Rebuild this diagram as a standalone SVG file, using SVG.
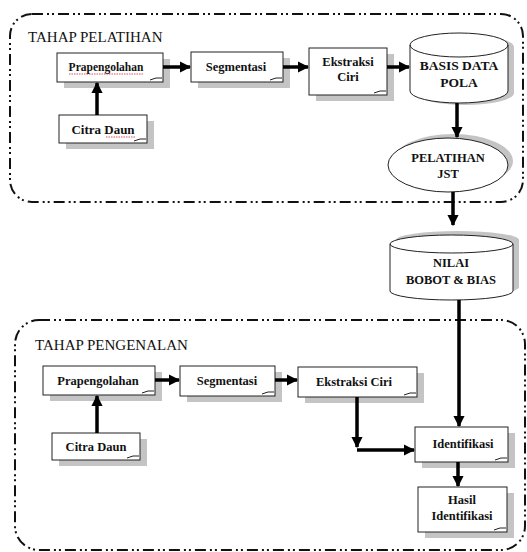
<svg xmlns="http://www.w3.org/2000/svg" width="527" height="552" viewBox="0 0 527 552">
<style>
.bnd{fill:none;stroke:#111;stroke-width:2;stroke-dasharray:11 4 2 3 2 4}
.box{fill:#fff;stroke:#222;stroke-width:1}
.sh{fill:#c4c4c4;stroke:none}
.fold{fill:none;stroke:#222;stroke-width:1}
.t{font-family:"Liberation Serif",serif;font-size:12.5px;font-weight:bold;fill:#111;text-anchor:middle}
.h{font-family:"Liberation Serif",serif;font-size:15px;fill:#111}
.c{stroke:#000;stroke-width:3.5;fill:none}
.wavy{fill:none;stroke:#d22;stroke-width:0.8;stroke-dasharray:1.5 1}
</style>
<defs>
<marker id="ah" viewBox="0 0 10 10" refX="9" refY="5" markerWidth="3.2" markerHeight="3.2" orient="auto" markerUnits="strokeWidth">
<path d="M0,0 L10,5 L0,10 z" fill="#000"/>
</marker>
</defs>

<!-- boundaries -->
<g id="tahap-pelatihan">
<rect class="bnd" x="10" y="14" width="513" height="188" rx="22" ry="22"/>
<text class="h" x="28" y="42">TAHAP PELATIHAN</text>
</g>
<g id="tahap-pengenalan">
<rect class="bnd" x="15" y="320" width="510" height="230" rx="24" ry="24"/>
<text class="h" x="35" y="350">TAHAP PENGENALAN</text>
</g>

<!-- top nodes -->
<g id="prapengolahan1">
<rect class="sh" x="64" y="59" width="106" height="29"/>
<rect class="box" x="57" y="53" width="106" height="29"/>
<path class="fold" d="M150,80 Q156,77 162,78"/>
<text class="t" x="106" y="71" style="font-size:11.5px">Prapengolahan</text>
<path class="wavy" d="M69,74 L144,74"/>
</g>
<g id="segmentasi1">
<rect class="sh" x="198" y="58" width="92" height="30"/>
<rect class="box" x="191" y="52" width="92" height="30"/>
<path class="fold" d="M270,80 Q276,77 282,78"/>
<text class="t" x="236" y="71">Segmentasi</text>
</g>
<g id="ekstraksi1">
<rect class="sh" x="316" y="54" width="78" height="47"/>
<rect class="box" x="309" y="48" width="78" height="47"/>
<path class="fold" d="M374,93 Q380,90 386,91"/>
<text class="t" x="348" y="66">Ekstraksi</text>
<text class="t" x="348" y="81">Ciri</text>
</g>
<g id="basis-data">
<path class="sh" d="M416,47 A49,12 0 0 1 514,47 L514,93 A49,12 0 0 1 416,93 z"/>
<path class="box" d="M410,45 A49,12 0 0 1 508,45 L508,91 A49,12 0 0 1 410,91 z"/>
<path class="fold" d="M410,45 A49,12 0 0 0 508,45"/>
<text class="t" x="459" y="70" style="font-size:13.5px">BASIS DATA</text>
<text class="t" x="459" y="87" style="font-size:13.5px">POLA</text>
</g>
<g id="pelatihan-jst">
<ellipse class="sh" cx="453" cy="161" rx="60" ry="27"/>
<ellipse class="box" cx="448" cy="165" rx="60" ry="27"/>
<text class="t" x="448" y="162">PELATIHAN</text>
<text class="t" x="448" y="178">JST</text>
</g>
<g id="citra-daun1">
<rect class="sh" x="66" y="121" width="88" height="28"/>
<rect class="box" x="59" y="115" width="88" height="28"/>
<path class="fold" d="M134,141 Q140,138 146,139"/>
<text class="t" x="103" y="134" style="font-size:13px">Citra Daun</text>
<path class="wavy" d="M106,137 L136,137"/>
</g>

<g id="nilai-bobot">
<path class="sh" d="M396,240 A61.5,9 0 0 1 519,240 L519,287 A61.5,9 0 0 1 396,287 z"/>
<path class="box" d="M390,244 A61.5,9 0 0 1 513,244 L513,291 A61.5,9 0 0 1 390,291 z"/>
<path class="fold" d="M390,244 A61.5,9 0 0 0 513,244"/>
<text class="t" x="451" y="267">NILAI</text>
<text class="t" x="451" y="284">BOBOT &amp; BIAS</text>
</g>

<!-- bottom nodes -->
<g id="prapengolahan2">
<rect class="sh" x="50" y="372" width="112" height="29"/>
<rect class="box" x="43" y="366" width="112" height="29"/>
<path class="fold" d="M142,393 Q148,390 154,391"/>
<text class="t" x="98" y="385">Prapengolahan</text>
</g>
<g id="segmentasi2">
<rect class="sh" x="187" y="372" width="95" height="30"/>
<rect class="box" x="180" y="366" width="95" height="30"/>
<path class="fold" d="M262,394 Q268,391 274,392"/>
<text class="t" x="227" y="385">Segmentasi</text>
</g>
<g id="ekstraksi2">
<rect class="sh" x="305" y="373" width="119" height="30"/>
<rect class="box" x="298" y="367" width="119" height="30"/>
<path class="fold" d="M404,395 Q410,392 416,393"/>
<text class="t" x="354" y="386">Ekstraksi Ciri</text>
</g>
<g id="citra-daun2">
<rect class="sh" x="59" y="439" width="88" height="27"/>
<rect class="box" x="52" y="433" width="88" height="27"/>
<path class="fold" d="M127,458 Q133,455 139,456"/>
<text class="t" x="96" y="451">Citra Daun</text>
</g>
<g id="identifikasi">
<rect class="sh" x="422" y="433" width="93" height="35"/>
<rect class="box" x="415" y="427" width="93" height="35"/>
<path class="fold" d="M495,460 Q501,457 507,458"/>
<text class="t" x="463" y="448">Identifikasi</text>
</g>
<g id="hasil-identifikasi">
<rect class="sh" x="425" y="493" width="89" height="45"/>
<rect class="box" x="418" y="487" width="89" height="45"/>
<path class="fold" d="M494,530 Q500,527 506,528"/>
<text class="t" x="462" y="504">Hasil</text>
<text class="t" x="462" y="520">Identifikasi</text>
</g>

<!-- connectors -->
<g id="connectors">
<line class="c" x1="163" y1="67" x2="190" y2="67" marker-end="url(#ah)"/>
<line class="c" x1="283" y1="67" x2="308" y2="67" marker-end="url(#ah)"/>
<line class="c" x1="387" y1="67" x2="409" y2="67" marker-end="url(#ah)"/>
<line class="c" x1="97" y1="115" x2="97" y2="83" marker-end="url(#ah)"/>
<line class="c" x1="457" y1="103" x2="457" y2="137" marker-end="url(#ah)"/>
<line class="c" x1="453" y1="192" x2="453" y2="225" marker-end="url(#ah)"/>
<line class="c" x1="459" y1="300" x2="459" y2="426" marker-end="url(#ah)"/>
<line class="c" x1="155" y1="380" x2="179" y2="380" marker-end="url(#ah)"/>
<line class="c" x1="275" y1="380" x2="297" y2="380" marker-end="url(#ah)"/>
<line class="c" x1="97" y1="433" x2="97" y2="396" marker-end="url(#ah)"/>
<line class="c" x1="357" y1="397" x2="357" y2="447" marker-end="url(#ah)"/>
<line class="c" x1="357" y1="450" x2="414" y2="450" marker-end="url(#ah)"/>
<line class="c" x1="458" y1="462" x2="458" y2="486" marker-end="url(#ah)"/>
</g>
</svg>
